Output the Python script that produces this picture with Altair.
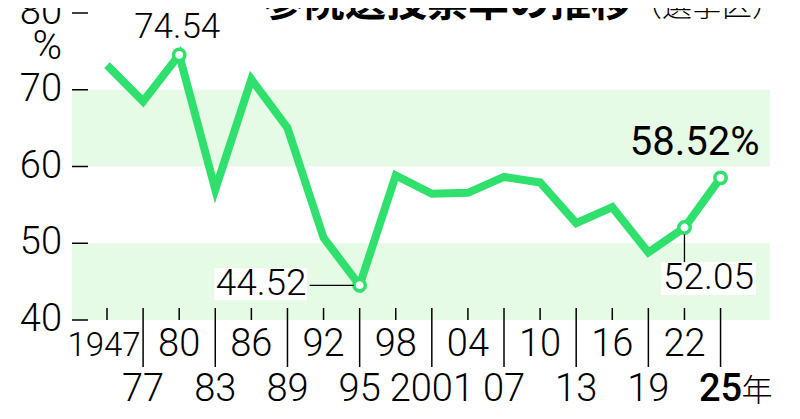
import altair as alt
import pandas as pd

# ---- data ----
tick_labels = ["1947", "77", "80", "83", "86", "89", "92", "95", "98", "2001",
               "04", "07", "10", "13", "16", "19", "22", "25"]
turnout = [73.20, 68.49, 74.54, 57.00, 71.36, 65.02, 50.72, 44.52, 58.84, 56.44,
           56.57, 58.64, 57.92, 52.61, 54.70, 48.80, 52.05, 58.52]
marked = ["80", "95", "22", "25"]
band_lo = [40, 60]
band_hi = [50, 70]
y_ticks = [40, 50, 60, 70, 80]

title_main = "参院選投票率の推移"
title_sub = "（選挙区）"

GREEN = "#2fe06c"
BAND = "#e5fbe5"
FONT = "Roboto"
W, H = 698, 307

idx = list(range(len(tick_labels)))
df = pd.DataFrame({"idx": idx, "label": tick_labels, "v": turnout})
df["row"] = ["top" if i % 2 == 0 else "bottom" for i in idx]
df_top = df[(df.row == "top") & (df.label != "1947")]
df_1947 = df[df.label == "1947"]
df_bot = df[(df.row == "bottom") & (df.label != "25")]
df_25 = df[df.label == "25"]
df_odd = df[df.row == "bottom"]
df_mark = df[df.label.isin(marked)]
df_yt = pd.DataFrame({"v": y_ticks})

xs = alt.Scale(domain=[-0.97, 18.37], nice=False, zero=False)
ys = alt.Scale(domain=[40, 80], nice=False, zero=False)
X = alt.X("idx:Q", scale=xs, axis=None)
Y = alt.Y("v:Q", scale=ys, axis=None)

bands = alt.Chart(pd.DataFrame({"lo": band_lo, "hi": band_hi})).mark_rect(color=BAND).encode(
    x=alt.value(0), x2=alt.value(W),
    y=alt.Y("lo:Q", scale=ys, axis=None), y2="hi:Q")

yt = alt.Chart(df_yt).mark_rule(color="black", strokeWidth=1.5).encode(
    x=alt.value(0), x2=alt.value(16), y=Y)
yl = alt.Chart(df_yt).mark_text(font=FONT, fontWeight=300, fontSize=38, align="right",
                                baseline="middle", color="black").encode(
    x=alt.value(-10), y=Y, text="v:Q")

up_ticks = alt.Chart(df).mark_rule(color="black", strokeWidth=1.5).encode(
    x=X, y=alt.value(H - 12), y2=alt.value(H))
down_ticks = alt.Chart(df_odd).mark_rule(color="black", strokeWidth=1.5).encode(
    x=X, y=alt.value(H), y2=alt.value(H + 47))

line = alt.Chart(df).mark_line(color=GREEN, strokeWidth=8, strokeJoin="miter").encode(
    x=alt.X("idx:Q", scale=xs,
            axis=alt.Axis(labels=False, ticks=False, grid=False, title=None,
                          domainColor="black", domainWidth=1.5)),
    y=alt.Y("v:Q", scale=ys,
            axis=alt.Axis(labels=False, ticks=False, grid=False, title=None,
                          domainColor="black", domainWidth=1.5)))

pts = alt.Chart(df_mark).mark_point(filled=True, fill="white", stroke=GREEN,
                                    strokeWidth=3.5, size=130, opacity=1).encode(x=X, y=Y)

def sel(l):
    return df[df.label == l]

lbl_74 = alt.Chart(sel("80")).mark_text(font=FONT, fontWeight=300, fontSize=35, dx=-2, dy=-28,
                                        baseline="middle", color="black").encode(
    x=X, y=Y, text=alt.Text("v:Q", format=".2f"))

box_44 = alt.Chart(sel("95")).mark_rect(color="white", width=93, height=32,
                                        xOffset=-99, yOffset=-1).encode(x=X, y=Y)
conn_44 = alt.Chart(sel("95")).mark_rule(color="black", strokeWidth=1.3,
                                         xOffset=-50, x2Offset=-6).encode(x=X, x2="idx:Q", y=Y)
lbl_44 = alt.Chart(sel("95")).mark_text(font=FONT, fontWeight=300, fontSize=37, dx=-53, dy=-1,
                                        align="right", baseline="middle", color="black").encode(
    x=X, y=Y, text=alt.Text("v:Q", format=".2f"))

conn_52 = alt.Chart(sel("22")).mark_rule(color="black", strokeWidth=1.3,
                                         yOffset=7, y2Offset=35).encode(x=X, y=Y, y2="v:Q")
box_52 = alt.Chart(sel("22")).mark_rect(color="white", width=95, height=33,
                                        xOffset=24, yOffset=51).encode(x=X, y=Y)
lbl_52 = alt.Chart(sel("22")).mark_text(font=FONT, fontWeight=300, fontSize=37, dx=24, dy=50,
                                        baseline="middle", color="black").encode(
    x=X, y=Y, text=alt.Text("v:Q", format=".2f"))

lbl_58 = alt.Chart(sel("25")).mark_text(font=FONT, fontWeight=400, fontSize=40, dx=39, dy=-35,
                                        align="right", baseline="middle", color="black").encode(
    x=X, y=Y, text=alt.Text("lbl:N"))
lbl_58 = lbl_58.transform_calculate(lbl="format(datum.v, '.2f') + '%'")

xl_top = alt.Chart(df_top).mark_text(font=FONT, fontWeight=300, fontSize=38, baseline="middle",
                                     color="black").encode(
    x=X, y=alt.value(H + 25), text="label:N")
xl_1947 = alt.Chart(df_1947).mark_text(font=FONT, fontWeight=300, fontSize=33,
                                       baseline="middle", dx=-3, dy=1, color="black").encode(
    x=X, y=alt.value(H + 25), text="label:N")
xl_bot = alt.Chart(df_bot).mark_text(font=FONT, fontWeight=300, fontSize=38, baseline="middle",
                                     color="black").encode(
    x=X, y=alt.value(H + 70), text="label:N")
xl_25 = alt.Chart(df_25).mark_text(font=FONT, fontWeight=500, fontSize=38, baseline="middle",
                                   color="black").encode(
    x=X, y=alt.value(H + 70), text="label:N")
xl_nen = alt.Chart(df_25).mark_text(font="Noto Sans CJK JP", fontWeight=300, fontSize=31,
                                    baseline="middle", align="left", dx=21, dy=2,
                                    color="black").encode(
    x=X, y=alt.value(H + 70), text=alt.value("年"))

pct = alt.Chart(df.head(1)).mark_text(font=FONT, fontWeight=300, fontSize=40, align="right",
                                      baseline="middle", color="black").encode(
    x=alt.value(-10), y=alt.value(34), text=alt.value("%"))

t_main = alt.Chart(df.head(1)).mark_text(font="Noto Sans CJK JP", fontWeight=700, fontSize=41,
                                         align="right", baseline="alphabetic",
                                         color="black").encode(
    x=alt.value(560), y=alt.value(3), text=alt.value(title_main))
t_sub = alt.Chart(df.head(1)).mark_text(font="Noto Sans CJK JP", fontWeight=300, fontSize=30,
                                        align="left", baseline="alphabetic",
                                        color="black").encode(
    x=alt.value(560), y=alt.value(3), text=alt.value(title_sub))

chart = alt.layer(
    bands, yt, yl, up_ticks, down_ticks, line, pts,
    lbl_74, box_44, conn_44, lbl_44, conn_52, box_52, lbl_52, lbl_58,
    xl_top, xl_1947, xl_bot, xl_25, xl_nen, pct, t_main, t_sub
).properties(
    width=W, height=H,
    autosize=alt.AutoSizeParams(type="none"),
    padding={"left": 64, "top": 5, "right": 22, "bottom": 91},
    background="white",
).configure_view(stroke=None)

chart.save("out.html", embed_options={"renderer": "svg", "actions": False})
